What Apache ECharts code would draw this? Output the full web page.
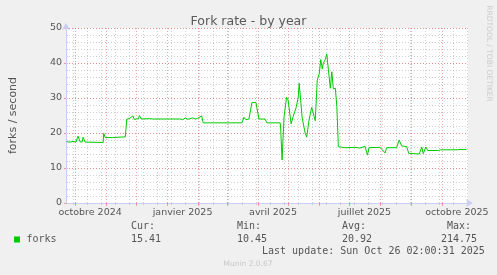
<!DOCTYPE html>
<html>
<head>
<meta charset="utf-8">
<script src="https://cdn.jsdelivr.net/npm/echarts@6/dist/echarts.min.js"></script>
<style>
html,body{margin:0;padding:0;background:#f0f0f0;}
#chart{width:497px;height:275px;}
</style>
</head>
<body>
<div id="chart"></div>
<script>
// Time is expressed in days since the graph start (2024-09-22, 400-day Munin "year" window)
const startLabel = '2024-09-22';
const spanDays = 400;

// Fork rate samples: day offset and forks/second
const days  = [0.5, 4, 7, 10, 12, 14, 16, 17, 19, 37, 37.5, 39, 46, 47, 59, 60.5, 63, 66.5, 68, 72, 73, 75, 84, 85, 86,
  114, 114.5, 116, 119, 121, 126, 129, 131, 135, 136.5, 146, 147, 148, 175, 176, 177, 179, 182, 185, 189, 192, 198, 200,
  213, 213.5, 215, 217, 219.5, 221, 224, 226, 229, 231, 232, 233.5, 235, 238, 239.5, 242, 244.5, 246, 248, 250, 252,
  253.5, 255, 256, 258, 259.5, 261, 263, 264.5, 266, 268, 269.5, 271, 272.5, 277.5, 287.5, 292.5, 297.5, 300, 301.5,
  312.5, 317.5, 319, 329, 331.5, 334, 337, 339, 341, 351.5, 354, 355.5, 358, 360, 370.5, 372, 373, 390, 391, 392, 398.5];
const forks = [17.5, 17.4, 17.6, 17.4, 19.1, 17.5, 17.4, 18.8, 17.4, 17.3, 19.9, 18.7, 18.7, 18.9, 18.9, 24.0, 24.1, 24.9, 23.9, 24.1, 25.0, 24.0, 24.1, 24.5, 24.0,
  24.0, 24.5, 23.8, 24.3, 23.9, 24.3, 24.0, 24.2, 24.9, 22.9, 22.9, 22.5, 22.9, 22.9, 23.3, 24.5, 23.8, 24.0, 28.7, 28.7, 24.0, 24.0, 22.9,
  22.9, 22.0, 12.3, 24.7, 30.2, 29.4, 22.6, 24.7, 27.3, 30.0, 34.2, 29.4, 24.3, 19.9, 18.8, 24.0, 27.3, 26.8, 23.5, 35.1, 37.0,
  41.0, 38.3, 39.9, 41.0, 42.6, 38.3, 32.8, 37.5, 32.6, 32.8, 27.5, 16.1, 15.7, 15.8, 15.9, 15.7, 16.2, 13.7, 15.8,
  15.9, 14.3, 15.8, 15.8, 18.0, 16.3, 16.2, 16.1, 14.2, 14.0, 16.0, 14.1, 16.0, 15.0, 15.0, 14.8, 15.2, 15.2, 15.0, 15.3, 15.3];

// Axis marks (day offsets)
const monthStarts = [9, 40, 70, 101, 132, 160, 191, 221, 252, 282, 313, 344, 374];
const biweekly = [7, 21, 35, 49, 63, 77, 91, 105, 119, 133, 147, 161, 175, 189, 203, 217, 231, 245, 259, 273, 287, 301, 315, 329, 343, 357, 371, 385, 399];
const xLabelDays = [24, 116, 206, 297, 389];
const xLabelText = ['octobre 2024', 'janvier 2025', 'avril 2025', 'juillet 2025', 'octobre 2025'];
const yMax = 50;

// Legend values
const legendName = 'forks';
const statHeads = ['Cur:', 'Min:', 'Avg:', 'Max:'];
const statVals = ['15.41', '10.45', '20.92', '214.75'];
const lastUpdate = 'Last update: Sun Oct 26 02:00:31 2025';

const data = days.map((d, i) => [d, forks[i]]);

const RED = 'rgba(230,90,90,0.55)';
const GRAY = 'rgba(150,150,150,0.45)';
const AXIS = '#c9cdf5';
const TXT = '#555';
const MONO = '"DejaVu Sans Mono", monospace';

const chart = echarts.init(document.getElementById('chart'), null, {renderer: 'canvas'});
chart.setOption({
  backgroundColor: '#f0f0f0',
  animation: false,
  title: {
    text: 'Fork rate - by year', left: 'center', top: 10,
    textStyle: {fontFamily: 'DejaVu Sans', fontSize: 12.5, fontWeight: 'normal', color: '#5a5a5a'}
  },
  grid: {left: 66, right: 29, top: 28, bottom: 72, show: true, backgroundColor: '#ffffff', borderWidth: 0},
  xAxis: [
    {
      type: 'value', min: 0, max: spanDays, position: 'bottom', z: 3,
      axisLine: {show: true, lineStyle: {color: AXIS, width: 1}, symbol: ['none', 'arrow'], symbolSize: [6, 7], symbolOffset: [0, 5]},
      axisTick: {show: true, customValues: monthStarts, length: 3, lineStyle: {color: RED}},
      splitLine: {show: true, lineStyle: {color: RED, type: [1, 2], width: 1}},
      axisLabel: {
        customValues: xLabelDays, margin: 5, color: TXT, fontFamily: 'DejaVu Sans', fontSize: 9.5,
        formatter: v => xLabelText[xLabelDays.indexOf(v)] || ''
      }
    },
    {
      type: 'value', min: 0, max: spanDays, position: 'bottom', z: 2,
      axisLine: {show: false},
      axisTick: {show: true, customValues: biweekly, length: 2, lineStyle: {color: GRAY}},
      splitLine: {show: true, lineStyle: {color: GRAY, type: [1, 2], width: 1}},
      axisLabel: {show: false}
    }
  ],
  yAxis: [
    {
      type: 'value', min: 0, max: yMax, interval: 10, z: 3,
      name: 'forks / second', nameLocation: 'middle', nameGap: 47, nameRotate: 90,
      nameTextStyle: {fontFamily: 'DejaVu Sans', fontSize: 11, color: TXT},
      axisLine: {show: true, lineStyle: {color: AXIS, width: 1}, symbol: ['none', 'arrow'], symbolSize: [6, 7], symbolOffset: [0, 5]},
      axisTick: {show: true, length: 2, lineStyle: {color: RED}},
      splitLine: {show: true, lineStyle: {color: RED, type: [1, 2], width: 1}},
      axisLabel: {margin: 4, color: TXT, fontFamily: 'DejaVu Sans', fontSize: 9.5}
    },
    {
      type: 'value', min: 0, max: yMax, interval: 2, z: 2,
      axisLine: {show: false},
      axisTick: {show: true, length: 2, lineStyle: {color: GRAY}},
      splitLine: {show: true, lineStyle: {color: GRAY, type: [1, 2], width: 1}},
      axisLabel: {show: false}
    }
  ],
  series: [{
    type: 'line', name: legendName, data: data, xAxisIndex: 0, yAxisIndex: 0,
    showSymbol: false, symbol: 'none', z: 5,
    lineStyle: {color: '#00cc00', width: 1}
  }],
  graphic: [
    {type: 'rect', x: 14, y: 236.5, shape: {width: 6, height: 6}, style: {fill: '#00cc00'}},
    {type: 'text', x: 26.5, y: 239.5, style: {text: legendName, font: '10px ' + MONO, fill: TXT, align: 'left', verticalAlign: 'middle'}},
    {type: 'text', x: 131, y: 226.5, style: {text: statHeads[0], font: '10px ' + MONO, fill: TXT, verticalAlign: 'middle'}},
    {type: 'text', x: 237, y: 226.5, style: {text: statHeads[1], font: '10px ' + MONO, fill: TXT, verticalAlign: 'middle'}},
    {type: 'text', x: 342, y: 226.5, style: {text: statHeads[2], font: '10px ' + MONO, fill: TXT, verticalAlign: 'middle'}},
    {type: 'text', x: 447, y: 226.5, style: {text: statHeads[3], font: '10px ' + MONO, fill: TXT, verticalAlign: 'middle'}},
    {type: 'text', x: 131, y: 239.5, style: {text: statVals[0], font: '10px ' + MONO, fill: TXT, verticalAlign: 'middle'}},
    {type: 'text', x: 237, y: 239.5, style: {text: statVals[1], font: '10px ' + MONO, fill: TXT, verticalAlign: 'middle'}},
    {type: 'text', x: 342, y: 239.5, style: {text: statVals[2], font: '10px ' + MONO, fill: TXT, verticalAlign: 'middle'}},
    {type: 'text', x: 441, y: 239.5, style: {text: statVals[3], font: '10px ' + MONO, fill: TXT, verticalAlign: 'middle'}},
    {type: 'text', x: 262, y: 251.7, style: {text: lastUpdate, font: '10px ' + MONO, fill: TXT, verticalAlign: 'middle'}},
    {type: 'text', x: 248, y: 264, style: {text: 'Munin 2.0.67', font: '7.5px "DejaVu Sans"', fill: '#c8c8c8', align: 'center', verticalAlign: 'middle'}},
    {type: 'text', x: 488.5, y: 53.5, rotation: -Math.PI / 2, style: {text: 'RRDTOOL / TOBI OETIKER', font: '7.5px "DejaVu Sans"', fill: '#cccccc', align: 'center', verticalAlign: 'middle'}}
  ]
});
</script>
</body>
</html>
